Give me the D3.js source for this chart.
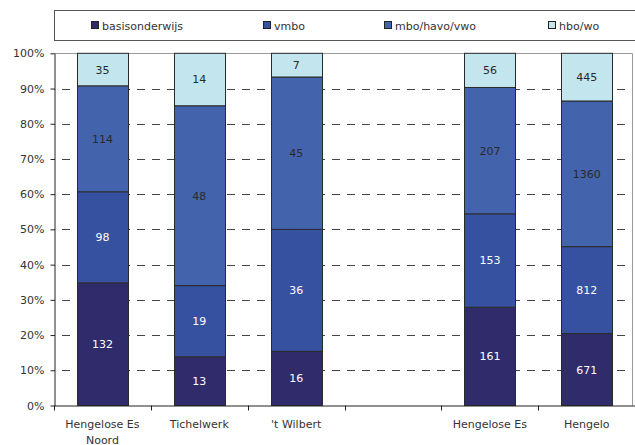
<!DOCTYPE html>
<html><head><meta charset="utf-8">
<script src="https://cdn.jsdelivr.net/npm/d3@7"></script>
<style>
html,body{margin:0;padding:0;background:#fff;}
svg{display:block;font-family:"DejaVu Sans",Verdana,sans-serif;}
</style></head>
<body>
<svg id="chart" width="635" height="445"></svg>
<script>
const categories = [["Hengelose Es","Noord"],["Tichelwerk"],["'t Wilbert"],[""],["Hengelose Es"],["Hengelo"]];
const seriesNames = ["basisonderwijs","vmbo","mbo/havo/vwo","hbo/wo"];
const basisonderwijs = [132, 13, 16, null, 161, 671];
const vmbo = [98, 19, 36, null, 153, 812];
const mboHavoVwo = [114, 48, 45, null, 207, 1360];
const hboWo = [35, 14, 7, null, 56, 445];
const yTicks = [0,0.1,0.2,0.3,0.4,0.5,0.6,0.7,0.8,0.9,1];
const colors = ["#302b6b","#3651a0","#4463ad","#c3e6ee"];
const labelColors = ["#ffffff","#ffffff","#2a2a2a","#2a2a2a"];

const series = [basisonderwijs, vmbo, mboHavoVwo, hboWo];
const svg = d3.select("#chart");
const pLeft = 54, pRight = 635.2, pTop = 53.3, pBottom = 405.5;

const x = d3.scaleBand().domain(d3.range(categories.length)).range([pLeft, pRight])
  .paddingInner(0.474).paddingOuter(0.237);
const y = d3.scaleLinear().domain([0,1]).range([pBottom, pTop]);

// legend
svg.append("rect").attr("x",54.5).attr("y",10.5).attr("width",590).attr("height",30)
  .attr("fill","#fff").attr("stroke","#555").attr("stroke-width",1);
const legX = [91, 263, 384, 548];
seriesNames.forEach((n,i)=>{
  svg.append("rect").attr("x",legX[i]+0.5).attr("y",21.5).attr("width",7).attr("height",7)
    .attr("fill",colors[i]).attr("stroke","#222").attr("stroke-width",1);
  svg.append("text").attr("x",legX[i]+11).attr("y",29.5).attr("font-size","11px")
    .attr("fill","#333").text(n);
});

// grid lines
const grid = svg.append("g");
yTicks.filter(t=>t>0 && t<1).forEach(t=>{
  grid.append("line").attr("x1",pLeft).attr("x2",632).attr("y1",Math.round(y(t))+0.5).attr("y2",Math.round(y(t))+0.5)
    .attr("stroke","#444").attr("stroke-width",1).attr("stroke-dasharray","8,7").attr("stroke-dashoffset",-8);
});
// plot border top/right
svg.append("line").attr("x1",pLeft).attr("x2",632.5).attr("y1",53.5).attr("y2",53.5).attr("stroke","#999");
svg.append("line").attr("x1",632.5).attr("x2",632.5).attr("y1",53.5).attr("y2",pBottom).attr("stroke","#999");

// bars
categories.forEach((c,ci)=>{
  const vals = series.map(s=>s[ci]);
  if (vals.some(v=>v==null)) return;
  const total = d3.sum(vals);
  let cum = 0;
  vals.forEach((v,si)=>{
    const y0 = cum/total, y1 = (cum+v)/total;
    cum += v;
    const bx = Math.round(x(ci))+0.5, bw = Math.round(x.bandwidth());
    const yt = y(y1), yb = y(y0);
    svg.append("rect").attr("x",bx).attr("y",yt).attr("width",bw).attr("height",yb-yt)
      .attr("fill",colors[si]).attr("stroke","#2a2a2a").attr("stroke-width",1);
    svg.append("text").attr("x",x(ci)+x.bandwidth()/2).attr("y",(yt+yb)/2).attr("dy","0.36em")
      .attr("text-anchor","middle").attr("font-size","11px").attr("fill",labelColors[si]).text(v);
  });
});

// y axis
const yAxis = d3.axisLeft(y).tickValues(yTicks).tickFormat(d=>Math.round(d*100)+"%").tickSize(4).tickSizeOuter(0);
const ya = svg.append("g").attr("transform",`translate(${pLeft+0.5},0)`).call(yAxis);
ya.select(".domain").attr("stroke","#222");
ya.selectAll(".tick line").attr("stroke","#222");
ya.selectAll(".tick text").attr("font-size","11px").attr("fill","#333").attr("font-family","DejaVu Sans").attr("x",-10);

// x axis
const xb = svg.append("g");
xb.append("line").attr("x1",pLeft).attr("x2",pRight).attr("y1",pBottom+0.5).attr("y2",pBottom+0.5).attr("stroke","#222");
d3.range(categories.length+1).forEach(i=>{
  const tx = Math.round(pLeft + i*x.step())+0.5;
  xb.append("line").attr("x1",tx).attr("x2",tx).attr("y1",pBottom).attr("y2",pBottom+5).attr("stroke","#222");
});
categories.forEach((c,ci)=>{
  const t = xb.append("text").attr("text-anchor","middle").attr("font-size","11px").attr("fill","#333");
  c.forEach((line,li)=>{
    t.append("tspan").attr("x",x(ci)+x.bandwidth()/2).attr("y",428+li*15.5).text(line);
  });
});
</script>
</body></html>
